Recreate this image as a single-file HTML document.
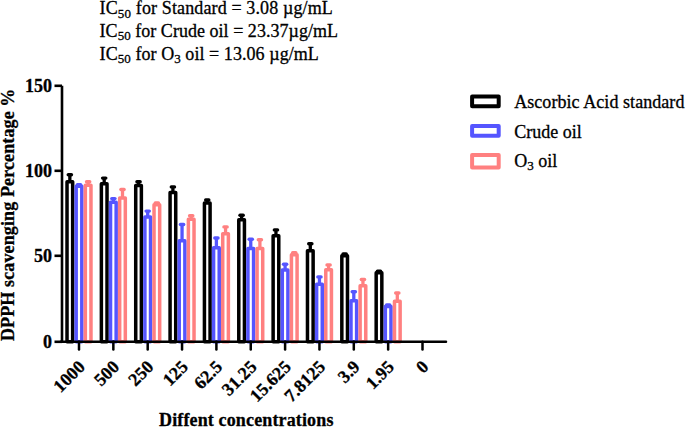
<!DOCTYPE html>
<html><head><meta charset="utf-8"><title>DPPH</title>
<style>
html,body{margin:0;padding:0;background:#fff;}
body{width:685px;height:427px;overflow:hidden;}
svg{display:block;}
text{font-family:"Liberation Serif",serif;font-size:18px;fill:#000;stroke:#000;stroke-width:0.3px;}
.b{font-weight:bold;}
.sub{font-size:13px;}
</style></head><body>
<svg width="685" height="427" viewBox="0 0 685 427">
<rect width="685" height="427" fill="#fff"/>
<text x="99.6" y="14.2" style="letter-spacing:0.13px">IC<tspan class="sub" dy="3.3">50</tspan><tspan dy="-3.3"> for Standard = 3.08 µg/mL</tspan></text>
<text x="99.6" y="37" style="letter-spacing:0.03px">IC<tspan class="sub" dy="3.3">50</tspan><tspan dy="-3.3"> for Crude oil = 23.37µg/mL</tspan></text>
<text x="99.6" y="60" style="letter-spacing:0.06px">IC<tspan class="sub" dy="3.3">50</tspan><tspan dy="-3.3"> for O</tspan><tspan class="sub" dy="3.3">3</tspan><tspan dy="-3.3"> oil = 13.06 µg/mL</tspan></text>
<line x1="69.85" y1="174.80" x2="69.85" y2="181.65" stroke="#000000" stroke-width="3.3"/>
<line x1="68.25" y1="174.80" x2="71.45" y2="174.80" stroke="#000000" stroke-width="3.4" stroke-linecap="round"/>
<rect x="67.02" y="181.65" width="5.65" height="160.15" fill="#fff" stroke="#000000" stroke-width="3.5" stroke-linejoin="round"/>
<line x1="79.00" y1="184.70" x2="79.00" y2="186.25" stroke="#5555ff" stroke-width="3.3"/>
<line x1="77.40" y1="184.70" x2="80.60" y2="184.70" stroke="#5555ff" stroke-width="3.4" stroke-linecap="round"/>
<rect x="76.17" y="186.25" width="5.65" height="155.55" fill="#fff" stroke="#5555ff" stroke-width="3.5" stroke-linejoin="round"/>
<line x1="88.15" y1="181.80" x2="88.15" y2="185.15" stroke="#ff8080" stroke-width="3.3"/>
<line x1="86.55" y1="181.80" x2="89.75" y2="181.80" stroke="#ff8080" stroke-width="3.4" stroke-linecap="round"/>
<rect x="85.33" y="185.15" width="5.65" height="156.65" fill="#fff" stroke="#ff8080" stroke-width="3.5" stroke-linejoin="round"/>
<line x1="104.20" y1="178.10" x2="104.20" y2="183.75" stroke="#000000" stroke-width="3.3"/>
<line x1="102.60" y1="178.10" x2="105.80" y2="178.10" stroke="#000000" stroke-width="3.4" stroke-linecap="round"/>
<rect x="101.37" y="183.75" width="5.65" height="158.05" fill="#fff" stroke="#000000" stroke-width="3.5" stroke-linejoin="round"/>
<line x1="113.35" y1="198.60" x2="113.35" y2="202.15" stroke="#5555ff" stroke-width="3.3"/>
<line x1="111.75" y1="198.60" x2="114.95" y2="198.60" stroke="#5555ff" stroke-width="3.4" stroke-linecap="round"/>
<rect x="110.52" y="202.15" width="5.65" height="139.65" fill="#fff" stroke="#5555ff" stroke-width="3.5" stroke-linejoin="round"/>
<line x1="122.50" y1="189.50" x2="122.50" y2="198.05" stroke="#ff8080" stroke-width="3.3"/>
<line x1="120.90" y1="189.50" x2="124.10" y2="189.50" stroke="#ff8080" stroke-width="3.4" stroke-linecap="round"/>
<rect x="119.67" y="198.05" width="5.65" height="143.75" fill="#fff" stroke="#ff8080" stroke-width="3.5" stroke-linejoin="round"/>
<line x1="138.55" y1="181.70" x2="138.55" y2="185.55" stroke="#000000" stroke-width="3.3"/>
<line x1="136.95" y1="181.70" x2="140.15" y2="181.70" stroke="#000000" stroke-width="3.4" stroke-linecap="round"/>
<rect x="135.72" y="185.55" width="5.65" height="156.25" fill="#fff" stroke="#000000" stroke-width="3.5" stroke-linejoin="round"/>
<line x1="147.70" y1="211.10" x2="147.70" y2="216.95" stroke="#5555ff" stroke-width="3.3"/>
<line x1="146.10" y1="211.10" x2="149.30" y2="211.10" stroke="#5555ff" stroke-width="3.4" stroke-linecap="round"/>
<rect x="144.88" y="216.95" width="5.65" height="124.85" fill="#fff" stroke="#5555ff" stroke-width="3.5" stroke-linejoin="round"/>
<line x1="156.85" y1="202.90" x2="156.85" y2="204.65" stroke="#ff8080" stroke-width="3.3"/>
<line x1="155.25" y1="202.90" x2="158.45" y2="202.90" stroke="#ff8080" stroke-width="3.4" stroke-linecap="round"/>
<rect x="154.03" y="204.65" width="5.65" height="137.15" fill="#fff" stroke="#ff8080" stroke-width="3.5" stroke-linejoin="round"/>
<line x1="172.90" y1="186.90" x2="172.90" y2="192.55" stroke="#000000" stroke-width="3.3"/>
<line x1="171.30" y1="186.90" x2="174.50" y2="186.90" stroke="#000000" stroke-width="3.4" stroke-linecap="round"/>
<rect x="170.08" y="192.55" width="5.65" height="149.25" fill="#fff" stroke="#000000" stroke-width="3.5" stroke-linejoin="round"/>
<line x1="182.05" y1="224.50" x2="182.05" y2="240.65" stroke="#5555ff" stroke-width="3.3"/>
<line x1="180.45" y1="224.50" x2="183.65" y2="224.50" stroke="#5555ff" stroke-width="3.4" stroke-linecap="round"/>
<rect x="179.23" y="240.65" width="5.65" height="101.15" fill="#fff" stroke="#5555ff" stroke-width="3.5" stroke-linejoin="round"/>
<line x1="191.20" y1="215.70" x2="191.20" y2="219.25" stroke="#ff8080" stroke-width="3.3"/>
<line x1="189.60" y1="215.70" x2="192.80" y2="215.70" stroke="#ff8080" stroke-width="3.4" stroke-linecap="round"/>
<rect x="188.38" y="219.25" width="5.65" height="122.55" fill="#fff" stroke="#ff8080" stroke-width="3.5" stroke-linejoin="round"/>
<line x1="207.25" y1="199.90" x2="207.25" y2="202.95" stroke="#000000" stroke-width="3.3"/>
<line x1="205.65" y1="199.90" x2="208.85" y2="199.90" stroke="#000000" stroke-width="3.4" stroke-linecap="round"/>
<rect x="204.43" y="202.95" width="5.65" height="138.85" fill="#fff" stroke="#000000" stroke-width="3.5" stroke-linejoin="round"/>
<line x1="216.40" y1="238.00" x2="216.40" y2="247.75" stroke="#5555ff" stroke-width="3.3"/>
<line x1="214.80" y1="238.00" x2="218.00" y2="238.00" stroke="#5555ff" stroke-width="3.4" stroke-linecap="round"/>
<rect x="213.58" y="247.75" width="5.65" height="94.05" fill="#fff" stroke="#5555ff" stroke-width="3.5" stroke-linejoin="round"/>
<line x1="225.55" y1="226.90" x2="225.55" y2="233.65" stroke="#ff8080" stroke-width="3.3"/>
<line x1="223.95" y1="226.90" x2="227.15" y2="226.90" stroke="#ff8080" stroke-width="3.4" stroke-linecap="round"/>
<rect x="222.73" y="233.65" width="5.65" height="108.15" fill="#fff" stroke="#ff8080" stroke-width="3.5" stroke-linejoin="round"/>
<line x1="241.60" y1="215.30" x2="241.60" y2="219.75" stroke="#000000" stroke-width="3.3"/>
<line x1="240.00" y1="215.30" x2="243.20" y2="215.30" stroke="#000000" stroke-width="3.4" stroke-linecap="round"/>
<rect x="238.78" y="219.75" width="5.65" height="122.05" fill="#fff" stroke="#000000" stroke-width="3.5" stroke-linejoin="round"/>
<line x1="250.75" y1="239.20" x2="250.75" y2="248.55" stroke="#5555ff" stroke-width="3.3"/>
<line x1="249.15" y1="239.20" x2="252.35" y2="239.20" stroke="#5555ff" stroke-width="3.4" stroke-linecap="round"/>
<rect x="247.93" y="248.55" width="5.65" height="93.25" fill="#fff" stroke="#5555ff" stroke-width="3.5" stroke-linejoin="round"/>
<line x1="259.90" y1="239.70" x2="259.90" y2="248.55" stroke="#ff8080" stroke-width="3.3"/>
<line x1="258.30" y1="239.70" x2="261.50" y2="239.70" stroke="#ff8080" stroke-width="3.4" stroke-linecap="round"/>
<rect x="257.07" y="248.55" width="5.65" height="93.25" fill="#fff" stroke="#ff8080" stroke-width="3.5" stroke-linejoin="round"/>
<line x1="275.95" y1="229.90" x2="275.95" y2="235.75" stroke="#000000" stroke-width="3.3"/>
<line x1="274.35" y1="229.90" x2="277.55" y2="229.90" stroke="#000000" stroke-width="3.4" stroke-linecap="round"/>
<rect x="273.13" y="235.75" width="5.65" height="106.05" fill="#fff" stroke="#000000" stroke-width="3.5" stroke-linejoin="round"/>
<line x1="285.10" y1="264.30" x2="285.10" y2="270.05" stroke="#5555ff" stroke-width="3.3"/>
<line x1="283.50" y1="264.30" x2="286.70" y2="264.30" stroke="#5555ff" stroke-width="3.4" stroke-linecap="round"/>
<rect x="282.28" y="270.05" width="5.65" height="71.75" fill="#fff" stroke="#5555ff" stroke-width="3.5" stroke-linejoin="round"/>
<line x1="294.25" y1="252.70" x2="294.25" y2="254.75" stroke="#ff8080" stroke-width="3.3"/>
<line x1="292.65" y1="252.70" x2="295.85" y2="252.70" stroke="#ff8080" stroke-width="3.4" stroke-linecap="round"/>
<rect x="291.43" y="254.75" width="5.65" height="87.05" fill="#fff" stroke="#ff8080" stroke-width="3.5" stroke-linejoin="round"/>
<line x1="310.30" y1="243.70" x2="310.30" y2="250.75" stroke="#000000" stroke-width="3.3"/>
<line x1="308.70" y1="243.70" x2="311.90" y2="243.70" stroke="#000000" stroke-width="3.4" stroke-linecap="round"/>
<rect x="307.48" y="250.75" width="5.65" height="91.05" fill="#fff" stroke="#000000" stroke-width="3.5" stroke-linejoin="round"/>
<line x1="319.45" y1="276.90" x2="319.45" y2="284.25" stroke="#5555ff" stroke-width="3.3"/>
<line x1="317.85" y1="276.90" x2="321.05" y2="276.90" stroke="#5555ff" stroke-width="3.4" stroke-linecap="round"/>
<rect x="316.63" y="284.25" width="5.65" height="57.55" fill="#fff" stroke="#5555ff" stroke-width="3.5" stroke-linejoin="round"/>
<line x1="328.60" y1="264.90" x2="328.60" y2="269.75" stroke="#ff8080" stroke-width="3.3"/>
<line x1="327.00" y1="264.90" x2="330.20" y2="264.90" stroke="#ff8080" stroke-width="3.4" stroke-linecap="round"/>
<rect x="325.78" y="269.75" width="5.65" height="72.05" fill="#fff" stroke="#ff8080" stroke-width="3.5" stroke-linejoin="round"/>
<line x1="344.65" y1="254.00" x2="344.65" y2="255.75" stroke="#000000" stroke-width="3.3"/>
<line x1="343.05" y1="254.00" x2="346.25" y2="254.00" stroke="#000000" stroke-width="3.4" stroke-linecap="round"/>
<rect x="341.83" y="255.75" width="5.65" height="86.05" fill="#fff" stroke="#000000" stroke-width="3.5" stroke-linejoin="round"/>
<line x1="353.80" y1="291.80" x2="353.80" y2="300.65" stroke="#5555ff" stroke-width="3.3"/>
<line x1="352.20" y1="291.80" x2="355.40" y2="291.80" stroke="#5555ff" stroke-width="3.4" stroke-linecap="round"/>
<rect x="350.98" y="300.65" width="5.65" height="41.15" fill="#fff" stroke="#5555ff" stroke-width="3.5" stroke-linejoin="round"/>
<line x1="362.95" y1="279.50" x2="362.95" y2="285.65" stroke="#ff8080" stroke-width="3.3"/>
<line x1="361.35" y1="279.50" x2="364.55" y2="279.50" stroke="#ff8080" stroke-width="3.4" stroke-linecap="round"/>
<rect x="360.12" y="285.65" width="5.65" height="56.15" fill="#fff" stroke="#ff8080" stroke-width="3.5" stroke-linejoin="round"/>
<line x1="379.00" y1="271.20" x2="379.00" y2="272.75" stroke="#000000" stroke-width="3.3"/>
<line x1="377.40" y1="271.20" x2="380.60" y2="271.20" stroke="#000000" stroke-width="3.4" stroke-linecap="round"/>
<rect x="376.18" y="272.75" width="5.65" height="69.05" fill="#fff" stroke="#000000" stroke-width="3.5" stroke-linejoin="round"/>
<line x1="388.15" y1="305.00" x2="388.15" y2="306.55" stroke="#5555ff" stroke-width="3.3"/>
<line x1="386.55" y1="305.00" x2="389.75" y2="305.00" stroke="#5555ff" stroke-width="3.4" stroke-linecap="round"/>
<rect x="385.33" y="306.55" width="5.65" height="35.25" fill="#fff" stroke="#5555ff" stroke-width="3.5" stroke-linejoin="round"/>
<line x1="397.30" y1="293.00" x2="397.30" y2="301.15" stroke="#ff8080" stroke-width="3.3"/>
<line x1="395.70" y1="293.00" x2="398.90" y2="293.00" stroke="#ff8080" stroke-width="3.4" stroke-linecap="round"/>
<rect x="394.48" y="301.15" width="5.65" height="40.65" fill="#fff" stroke="#ff8080" stroke-width="3.5" stroke-linejoin="round"/>
<line x1="62" y1="85.8" x2="62" y2="341.8" stroke="#000" stroke-width="2.6"/>
<line x1="60.8" y1="341.8" x2="446" y2="341.8" stroke="#000" stroke-width="2.5" stroke-linecap="round"/>
<line x1="54.5" y1="85.8" x2="62" y2="85.8" stroke="#000" stroke-width="2.6"/>
<text x="52" y="91.9" text-anchor="end" class="b">150</text>
<line x1="54.5" y1="170.8" x2="62" y2="170.8" stroke="#000" stroke-width="2.6"/>
<text x="52" y="176.9" text-anchor="end" class="b">100</text>
<line x1="54.5" y1="255.8" x2="62" y2="255.8" stroke="#000" stroke-width="2.6"/>
<text x="52" y="261.9" text-anchor="end" class="b">50</text>
<line x1="54.5" y1="341.8" x2="62" y2="341.8" stroke="#000" stroke-width="2.6"/>
<text x="52" y="347.9" text-anchor="end" class="b">0</text>
<line x1="79.00" y1="341.8" x2="79.00" y2="349.5" stroke="#000" stroke-width="2.5" stroke-linecap="round"/>
<text transform="translate(86.00,368) rotate(-45)" text-anchor="end" class="b">1000</text>
<line x1="113.35" y1="341.8" x2="113.35" y2="349.5" stroke="#000" stroke-width="2.5" stroke-linecap="round"/>
<text transform="translate(120.35,368) rotate(-45)" text-anchor="end" class="b">500</text>
<line x1="147.70" y1="341.8" x2="147.70" y2="349.5" stroke="#000" stroke-width="2.5" stroke-linecap="round"/>
<text transform="translate(154.70,368) rotate(-45)" text-anchor="end" class="b">250</text>
<line x1="182.05" y1="341.8" x2="182.05" y2="349.5" stroke="#000" stroke-width="2.5" stroke-linecap="round"/>
<text transform="translate(189.05,368) rotate(-45)" text-anchor="end" class="b">125</text>
<line x1="216.40" y1="341.8" x2="216.40" y2="349.5" stroke="#000" stroke-width="2.5" stroke-linecap="round"/>
<text transform="translate(223.40,368) rotate(-45)" text-anchor="end" class="b">62.5</text>
<line x1="250.75" y1="341.8" x2="250.75" y2="349.5" stroke="#000" stroke-width="2.5" stroke-linecap="round"/>
<text transform="translate(257.75,368) rotate(-45)" text-anchor="end" class="b">31.25</text>
<line x1="285.10" y1="341.8" x2="285.10" y2="349.5" stroke="#000" stroke-width="2.5" stroke-linecap="round"/>
<text transform="translate(292.10,368) rotate(-45)" text-anchor="end" class="b">15.625</text>
<line x1="319.45" y1="341.8" x2="319.45" y2="349.5" stroke="#000" stroke-width="2.5" stroke-linecap="round"/>
<text transform="translate(326.45,368) rotate(-45)" text-anchor="end" class="b">7.8125</text>
<line x1="353.80" y1="341.8" x2="353.80" y2="349.5" stroke="#000" stroke-width="2.5" stroke-linecap="round"/>
<text transform="translate(360.80,368) rotate(-45)" text-anchor="end" class="b">3.9</text>
<line x1="388.15" y1="341.8" x2="388.15" y2="349.5" stroke="#000" stroke-width="2.5" stroke-linecap="round"/>
<text transform="translate(395.15,368) rotate(-45)" text-anchor="end" class="b">1.95</text>
<line x1="422.50" y1="341.8" x2="422.50" y2="349.5" stroke="#000" stroke-width="2.5" stroke-linecap="round"/>
<text transform="translate(429.50,368) rotate(-45)" text-anchor="end" class="b">0</text>
<text transform="translate(14,341) rotate(-90)" class="b" style="letter-spacing:0.12px">DPPH scavenging Percentage %</text>
<text x="159" y="425.8" class="b" style="letter-spacing:0.14px">Diffent concentrations</text>
<rect x="472.1" y="96.5" width="26.6" height="9.7" fill="#fff" stroke="#000" stroke-width="4" stroke-linejoin="round"/>
<rect x="472.1" y="126" width="26.6" height="9.7" fill="#fff" stroke="#5555ff" stroke-width="4" stroke-linejoin="round"/>
<rect x="472.1" y="154.9" width="26.6" height="12.5" fill="#fff" stroke="#ff8080" stroke-width="4" stroke-linejoin="round"/>
<text x="514.2" y="108" style="letter-spacing:0.06px">Ascorbic Acid standard</text>
<text x="514.2" y="137.5">Crude oil</text>
<text x="514.2" y="167">O<tspan class="sub" dy="3.3">3</tspan><tspan dy="-3.3"> oil</tspan></text>
</svg>
</body></html>
